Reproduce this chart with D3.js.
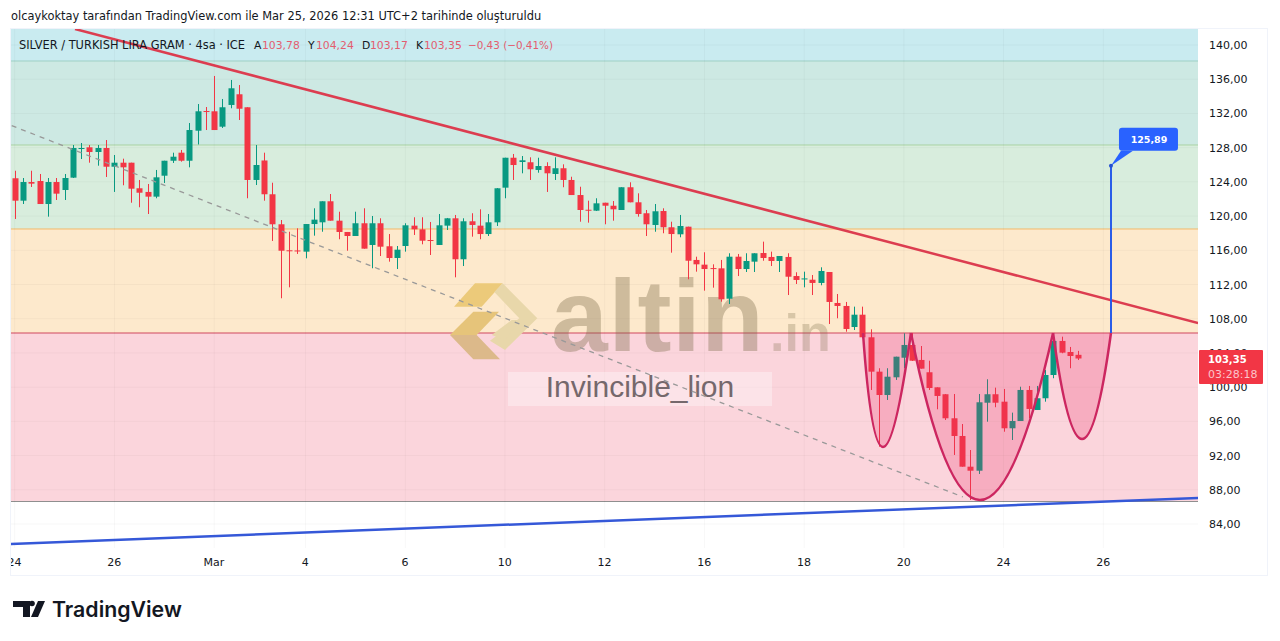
<!DOCTYPE html>
<html>
<head>
<meta charset="utf-8">
<script src="https://cdn.jsdelivr.net/npm/d3@7"></script>
<style>
  html, body { margin: 0; padding: 0; background: #fff; }
</style>
</head>
<body>
<div id="chart"></div>
<script>
// Candle data
const opens = [124.42,121.80,123.98,124.10,121.41,123.98,123.05,124.49,127.84,128.04,127.49,127.96,125.77,126.24,126.24,123.25,122.82,122.27,124.72,126.47,127.41,126.47,129.98,132.28,132.25,130.45,132.99,134.24,132.72,124.22,126.50,122.55,119.04,116.00,115.98,115.84,119.07,119.27,121.73,119.46,118.14,117.67,119.16,116.62,119.16,116.47,115.10,116.50,118.88,118.45,117.20,116.62,118.88,119.74,114.95,119.39,118.88,117.90,119.27,123.32,126.82,126.32,126.29,125.39,125.85,124.92,125.59,124.22,122.46,120.74,120.63,121.56,121.21,120.71,123.37,121.61,120.33,118.96,120.59,118.69,117.87,118.76,114.87,114.32,113.92,113.89,110.34,115.25,113.81,114.67,115.68,115.22,114.75,115.22,112.99,112.65,112.56,112.18,113.46,109.84,109.49,107.03,108.47,105.83,101.81,99.08,101.15,103.44,104.93,103.18,101.74,99.98,99.17,96.36,94.29,90.70,90.23,98.18,99.17,98.30,95.19,96.04,99.67,97.33,98.70,101.42,105.40,104.11,103.78];
const highs = [125.30,124.45,125.30,124.92,124.45,124.45,124.92,128.31,128.54,128.31,128.31,128.89,127.14,126.71,126.24,124.22,123.75,125.39,126.47,127.41,127.73,130.88,133.10,132.75,136.38,133.69,135.91,135.32,132.72,128.31,127.41,123.90,119.54,118.17,118.57,119.07,120.91,121.73,122.58,120.51,118.14,120.51,120.91,120.01,119.74,117.90,116.50,119.16,119.86,119.86,119.31,120.24,119.78,120.13,119.74,120.33,120.79,120.24,123.28,126.82,127.26,127.02,126.87,126.82,126.29,126.87,126.05,124.60,123.43,121.80,122.08,121.56,121.76,123.37,123.95,122.66,120.71,121.41,120.91,119.34,120.13,118.76,115.25,115.77,114.36,114.87,115.65,115.57,115.65,115.65,117.01,115.84,115.33,115.65,113.43,113.50,113.11,114.01,113.46,110.89,109.96,109.41,109.41,106.76,102.21,102.21,103.56,106.30,106.33,104.81,103.09,99.98,99.20,99.20,95.69,92.65,99.20,100.92,99.94,99.79,97.02,100.05,100.14,100.14,102.01,106.30,105.90,104.70,104.24];
const lows = [119.66,121.41,123.40,121.41,119.93,121.88,121.88,124.45,126.67,126.24,125.89,124.57,122.82,123.60,121.56,121.03,120.24,122.08,123.87,126.21,126.36,125.70,128.37,130.06,130.06,130.30,132.60,131.23,122.08,123.63,121.80,117.09,110.39,111.67,115.57,115.06,117.71,118.17,119.46,117.29,115.95,117.67,116.19,113.90,115.33,114.67,113.81,115.84,117.79,116.70,115.45,116.62,118.37,112.84,114.16,117.59,117.29,117.67,118.84,122.08,124.22,125.00,124.22,125.07,122.82,124.22,123.37,122.46,119.34,119.23,120.59,119.04,119.46,120.71,121.61,119.93,117.67,118.17,117.99,115.72,117.52,112.61,113.50,111.28,111.63,109.99,109.72,112.99,113.46,113.46,114.78,114.16,113.46,110.77,112.06,111.67,110.77,111.91,107.38,108.05,106.48,106.68,105.71,99.67,93.04,98.50,100.84,102.21,103.06,102.16,99.67,97.41,96.16,92.07,90.70,86.81,89.85,95.96,97.65,94.79,93.82,96.04,96.36,97.33,98.30,101.04,103.96,102.21,103.17];
const closes = [121.80,123.98,123.79,121.41,123.98,122.62,124.45,127.96,127.96,127.49,127.96,125.77,126.24,125.70,123.20,122.73,122.27,124.53,126.47,126.94,126.47,130.06,132.25,132.17,130.06,132.72,134.94,132.55,124.22,125.97,122.55,119.04,115.95,115.95,115.92,119.07,119.58,121.73,119.46,118.14,117.67,119.16,116.19,119.16,116.42,115.10,116.07,118.92,118.45,117.12,117.14,118.92,119.74,114.95,119.39,118.96,117.90,119.27,123.25,126.82,125.97,126.52,125.47,125.85,125.00,125.59,124.22,122.46,120.71,120.68,121.49,121.21,120.79,123.37,121.61,120.24,119.04,120.56,118.69,117.90,118.84,114.78,114.36,113.81,113.86,110.27,115.25,113.81,114.75,115.65,115.10,114.75,115.33,112.91,112.53,112.71,112.18,113.58,109.96,109.49,106.80,108.47,105.83,101.81,99.08,101.22,103.56,104.93,103.09,102.16,99.90,98.97,96.36,94.29,90.70,90.23,98.23,99.17,98.18,95.19,96.04,99.67,97.45,98.70,101.42,105.40,104.03,103.64,103.35];

// Axes
const priceTicks = [140,136,132,128,124,120,116,112,108,104,100,96,92,88,84];
const timeTicks = [0,12,24,35,47,59,71,83,95,107,119,131];
const timeLabels = ["24","26","Mar","4","6","10","12","16","18","20","24","26"];

// Drawings, in bar index and price
const bandLevels = [138.13,128.31,118.49,106.33,86.63];
const resistance = [[7.26,141.87],[142.4,107.5]];
const support = [[-0.45,81.67],[142.4,87.04]];
const dashedTrend = [[-0.36,130.57],[114.1,87.16]];
const cupBase = 106.33;
const cups = [
  { from: 102.08, ctrlX: 104.0, ctrlY: 79.68, to: 107.85 },
  { from: 107.85, ctrlX: 115.9, ctrlY: 67.29, to: 124.95 },
  { from: 124.95, ctrlX: 128.44, ctrlY: 81.55, to: 131.92 }
];
const targetBar = 131.92;
const targetPrice = 125.89;

const headerText = "olcaykoktay tarafından TradingView.com ile Mar 25, 2026 12:31 UTC+2 tarihinde oluşturuldu";

// Colors
const upColor = "#089981";
const downColor = "#f23645";
const bandFills = ["#c9ebf0","#cde9e3","#d8eddd","#fde9cc","#fbd5dc"];
const bandLines = ["#9ed0c4","#a9d3a4","#f3b96a","#d0495e","#8f8f8f"];

const plot = { left: 11, right: 1198, top: 29, bottom: 548 };
const uiFont = "'DejaVu Sans', sans-serif";

const svg = d3.select("#chart")
  .append("svg")
  .attr("width", 1280)
  .attr("height", 641)
  .style("display", "block");

const x = d3.scaleLinear().domain([0, 128]).range([14.7, 1078.4]);
const y = d3.scaleLinear().domain([84, 140]).range([524, 45]);

svg.append("clipPath").attr("id", "plot-clip")
  .append("rect")
  .attr("x", plot.left)
  .attr("y", plot.top)
  .attr("width", plot.right - plot.left)
  .attr("height", plot.bottom - plot.top);

svg.append("clipPath").attr("id", "time-clip")
  .append("rect")
  .attr("x", plot.left)
  .attr("y", plot.bottom)
  .attr("width", plot.right - plot.left)
  .attr("height", 28);

drawFrame();
drawBands();
drawGrid();
drawWatermark();
drawCandles();
drawDrawings();
drawAxes();
drawLegend();
drawLastPrice();
drawTargetLabel();
drawBranding();

function drawFrame() {
  svg.append("rect")
    .attr("x", plot.left - 0.5)
    .attr("y", plot.top - 0.5)
    .attr("width", 1268 - plot.left)
    .attr("height", 576 - plot.top)
    .attr("fill", "#fff")
    .attr("stroke", "#f0f3fa");
}

function drawBands() {
  const plotG = svg.append("g").attr("clip-path", "url(#plot-clip)");
  bandLevels.forEach((level, i) => {
    const top = i === 0 ? plot.top : y(bandLevels[i - 1]);
    plotG.append("rect")
      .attr("x", plot.left)
      .attr("y", top)
      .attr("width", plot.right - plot.left)
      .attr("height", y(level) - top)
      .attr("fill", bandFills[i]);
  });
  bandLevels.forEach((level, i) => {
    plotG.append("line")
      .attr("x1", plot.left)
      .attr("x2", plot.right)
      .attr("y1", y(level))
      .attr("y2", y(level))
      .attr("stroke", bandLines[i])
      .attr("stroke-width", i === 3 ? 1.2 : 1);
  });
}

function drawGrid() {
  const grid = svg.append("g").attr("clip-path", "url(#plot-clip)")
    .attr("stroke", "#000")
    .attr("stroke-opacity", 0.03);
  grid.selectAll(".h").data(priceTicks).join("line")
    .attr("x1", plot.left)
    .attr("x2", plot.right)
    .attr("y1", d => y(d))
    .attr("y2", d => y(d));
  grid.selectAll(".v").data(timeTicks).join("line")
    .attr("x1", d => x(d))
    .attr("x2", d => x(d))
    .attr("y1", plot.top)
    .attr("y2", plot.bottom);
}

function drawWatermark() {
  const mark = svg.append("g");
  const logo = mark.append("g").attr("transform", "translate(430,270) scale(0.3333)");
  logo.append("polygon").attr("points", "135,40 218,40 155,110 72,110").attr("fill", "#ecca7a");
  logo.append("polygon").attr("points", "218,40 322,145 225,240 180,212 268,145 193,66").attr("fill", "#e8d7aa");
  logo.append("polygon").attr("points", "130,125 207,125 140,195 60,195").attr("fill", "#e6c47a");
  logo.append("polygon").attr("points", "60,195 140,195 210,268 130,268").attr("fill", "#dcb98a");
  logo.append("polygon").attr("points", "185,195 245,150 270,150 225,210").attr("fill", "#e8d7aa");

  mark.append("text")
    .attr("x", 551)
    .attr("y", 351)
    .attr("font-family", "'Liberation Sans', sans-serif")
    .attr("font-weight", "bold")
    .attr("font-size", 102)
    .attr("letter-spacing", 0.7)
    .attr("fill", "#7a6a48")
    .attr("fill-opacity", 0.36)
    .text("altin");
  mark.append("text")
    .attr("x", 770)
    .attr("y", 351)
    .attr("font-family", "'Liberation Sans', sans-serif")
    .attr("font-weight", "bold")
    .attr("font-size", 52)
    .attr("fill", "#7a6a48")
    .attr("fill-opacity", 0.28)
    .text(".in");

  mark.append("rect")
    .attr("x", 508)
    .attr("y", 372)
    .attr("width", 264)
    .attr("height", 34)
    .attr("fill", "#fff")
    .attr("fill-opacity", 0.35);
  mark.append("text")
    .attr("x", 640)
    .attr("y", 397)
    .attr("text-anchor", "middle")
    .attr("font-family", "'Liberation Sans', sans-serif")
    .attr("font-size", 30)
    .attr("fill", "#75686c")
    .text("Invincible_lion");
}

function drawCandles() {
  const g = svg.append("g").attr("clip-path", "url(#plot-clip)");
  const color = i => closes[i] >= opens[i] ? upColor : downColor;
  g.selectAll(".wick").data(d3.range(opens.length)).join("line")
    .attr("x1", i => Math.round(x(i)) + 0.5)
    .attr("x2", i => Math.round(x(i)) + 0.5)
    .attr("y1", i => y(highs[i]))
    .attr("y2", i => y(lows[i]))
    .attr("stroke", color);
  g.selectAll(".body").data(d3.range(opens.length)).join("rect")
    .attr("x", i => Math.round(x(i)) - 2.5)
    .attr("y", i => y(Math.max(opens[i], closes[i])))
    .attr("width", 6)
    .attr("height", i => Math.max(1, Math.abs(y(opens[i]) - y(closes[i]))))
    .attr("fill", color);
}

function drawDrawings() {
  const g = svg.append("g").attr("clip-path", "url(#plot-clip)");
  const line = d3.line().x(d => x(d[0])).y(d => y(d[1]));

  g.append("path")
    .attr("d", line(dashedTrend))
    .attr("fill", "none")
    .attr("stroke", "#999")
    .attr("stroke-width", 1.3)
    .attr("stroke-dasharray", "5,5");

  cups.forEach(cup => {
    const p = d3.path();
    p.moveTo(x(cup.from), y(cupBase));
    p.quadraticCurveTo(x(cup.ctrlX), y(cup.ctrlY), x(cup.to), y(cupBase));
    g.append("path")
      .attr("d", p.toString() + "Z")
      .attr("fill", "#ea2a62")
      .attr("fill-opacity", 0.23);
    g.append("path")
      .attr("d", p.toString())
      .attr("fill", "none")
      .attr("stroke", "#cc2660")
      .attr("stroke-width", 2.5);
  });

  g.append("path")
    .attr("d", line(resistance))
    .attr("fill", "none")
    .attr("stroke", "#dc3d50")
    .attr("stroke-width", 2.5);

  g.append("path")
    .attr("d", line(support))
    .attr("fill", "none")
    .attr("stroke", "#3558d8")
    .attr("stroke-width", 2.5);

  g.append("line")
    .attr("x1", x(targetBar))
    .attr("x2", x(targetBar))
    .attr("y1", y(cupBase))
    .attr("y2", y(targetPrice))
    .attr("stroke", "#2a5de8")
    .attr("stroke-width", 2);
}

function drawAxes() {
  const priceAxis = d3.axisRight(y)
    .tickValues(priceTicks)
    .tickSize(0)
    .tickPadding(0)
    .tickFormat(d => d3.format(".2f")(d).replace(".", ","));
  const priceG = svg.append("g")
    .attr("transform", `translate(1209,0)`)
    .call(priceAxis);
  priceG.select(".domain").remove();
  priceG.selectAll("text")
    .attr("font-family", uiFont)
    .attr("font-size", 11)
    .attr("fill", "#131722");

  const timeAxis = d3.axisBottom(x)
    .tickValues(timeTicks)
    .tickSize(0)
    .tickPadding(0)
    .tickFormat((d, i) => timeLabels[i]);
  const timeClip = svg.append("g").attr("clip-path", "url(#time-clip)");
  const timeG = timeClip.append("g")
    .attr("transform", `translate(-0.7,558)`)
    .call(timeAxis);
  timeG.select(".domain").remove();
  timeG.selectAll("text")
    .attr("font-family", uiFont)
    .attr("font-size", 11)
    .attr("fill", "#131722");
}

function drawLegend() {
  svg.append("text")
    .attr("x", 11)
    .attr("y", 20)
    .attr("font-family", uiFont)
    .attr("font-size", 11.43)
    .attr("fill", "#131722")
    .text(headerText);

  const legend = [
    { x: 19, text: "SILVER / TURKISH LIRA GRAM · 4sa · ICE", fill: "#131722" },
    { x: 254, text: "A", fill: "#131722" },
    { x: 262, text: "103,78", fill: "#e35d6f" },
    { x: 308, text: "Y", fill: "#131722" },
    { x: 316, text: "104,24", fill: "#e35d6f" },
    { x: 362, text: "D", fill: "#131722" },
    { x: 370, text: "103,17", fill: "#e35d6f" },
    { x: 416, text: "K", fill: "#131722" },
    { x: 424, text: "103,35", fill: "#e35d6f" },
    { x: 468, text: "−0,43 (−0,41%)", fill: "#e35d6f" }
  ];
  svg.selectAll(".legend").data(legend).join("text")
    .attr("x", d => d.x)
    .attr("y", 49)
    .attr("font-family", uiFont)
    .attr("font-size", d => d.x === 19 ? 11.4 : d.x === 468 ? 10.4 : 10.8)
    .attr("fill", d => d.fill)
    .text(d => d.text);
}

function drawLastPrice() {
  svg.append("rect")
    .attr("x", 1199)
    .attr("y", 350)
    .attr("width", 64)
    .attr("height", 34)
    .attr("rx", 1)
    .attr("fill", downColor);
  svg.append("text")
    .attr("x", 1208)
    .attr("y", 363)
    .attr("font-family", uiFont)
    .attr("font-size", 10)
    .attr("font-weight", "bold")
    .attr("fill", "#fff")
    .text("103,35");
  svg.append("text")
    .attr("x", 1208)
    .attr("y", 378)
    .attr("font-family", uiFont)
    .attr("font-size", 11)
    .attr("fill", "#fbc4ca")
    .text("03:28:18");
}

function drawTargetLabel() {
  const tipX = x(targetBar);
  const tipY = y(targetPrice);
  const g = svg.append("g");
  g.append("path")
    .attr("d", `M${tipX},${tipY} L${tipX + 10},${tipY - 15} L${tipX + 22},${tipY - 15} Z`)
    .attr("fill", "#2962ff");
  g.append("rect")
    .attr("x", tipX + 8)
    .attr("y", tipY - 38)
    .attr("width", 59)
    .attr("height", 23)
    .attr("rx", 3)
    .attr("fill", "#2962ff");
  g.append("circle")
    .attr("cx", tipX)
    .attr("cy", tipY)
    .attr("r", 2)
    .attr("fill", "#2450d0");
  g.append("text")
    .attr("x", tipX + 38)
    .attr("y", tipY - 23)
    .attr("text-anchor", "middle")
    .attr("font-family", uiFont)
    .attr("font-size", 9.5)
    .attr("font-weight", "bold")
    .attr("fill", "#fff")
    .text(d3.format(".2f")(targetPrice).replace(".", ","));
}

function drawBranding() {
  const g = svg.append("g").attr("fill", "#131722");
  g.append("polygon").attr("points", "13,601 30,601 30,617 23,617 23,607 13,607");
  g.append("circle").attr("cx", 32).attr("cy", 603.5).attr("r", 2.8);
  g.append("polygon").attr("points", "38,601 45,601 38,617 31,617");
  g.append("text")
    .attr("x", 52)
    .attr("y", 617)
    .attr("font-family", "Inter, sans-serif")
    .attr("font-weight", 600)
    .attr("font-size", 21.3)
    .text("TradingView");
}
</script>
</body>
</html>
